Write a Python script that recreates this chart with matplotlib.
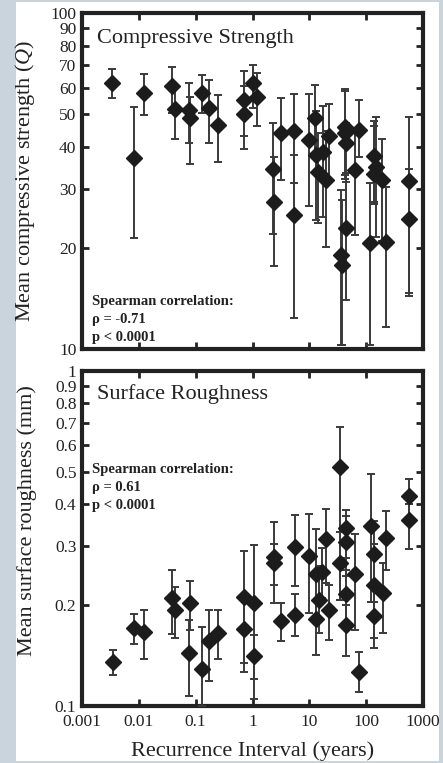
import numpy as np
import matplotlib
matplotlib.use("Agg")
import matplotlib.pyplot as plt
from matplotlib.patches import Rectangle
from matplotlib.ticker import FixedLocator, NullLocator, FixedFormatter

# compressive strength: recurrence interval, mean Q, lower / upper bar ends
cs_x = [0.0034, 0.0083, 0.0125, 0.038, 0.0435, 0.075, 0.080, 0.128, 0.175, 0.245,
        0.72, 0.72, 1.035, 1.19, 2.33, 2.39, 3.13, 5.37, 5.37, 9.7,
        12.7, 13.1, 14.4, 17.1, 19.6, 22.4, 35.4, 36.9, 42.2, 43.0,
        44.0, 43.5, 63.2, 75.4, 119, 136, 148, 140, 191, 221,
        569, 569]
cs_mean = [61.8, 36.9, 57.7, 60.7, 51.7, 51.5, 48.6, 57.7, 52.1, 46.4,
           55.1, 50.1, 61.8, 56.4, 34.3, 27.4, 43.8, 44.5, 25.0, 41.9,
           48.6, 37.8, 33.7, 38.7, 31.8, 43.1, 19.0, 17.8, 45.7, 43.8,
           41.1, 22.9, 34.1, 44.7, 20.7, 37.5, 34.9, 33.2, 31.8, 20.8,
           31.6, 24.3]
cs_lo = [56.0, 21.4, 49.8, 50.5, 42.1, 40.9, 35.5, 50.3, 41.1, 35.9,
         43.1, 39.5, 52.0, 46.1, 22.0, 17.7, 31.8, 31.2, 12.4, 26.6,
         38.0, 24.2, 23.7, 24.7, 20.1, 31.8, 10.3, 10.3, 32.0, 33.0,
         31.5, 14.0, 21.8, 37.4, 10.3, 27.4, 21.5, 27.0, 21.0, 11.6,
         14.7, 14.4]
cs_hi = [68.1, 52.6, 65.9, 69.3, 60.0, 62.1, 56.4, 65.5, 63.0, 57.1,
         67.3, 60.7, 69.8, 66.5, 46.9, 37.4, 55.7, 57.4, 37.8, 57.4,
         60.9, 51.0, 44.0, 52.7, 44.5, 53.5, 29.7, 27.7, 59.3, 58.5,
         47.0, 33.3, 45.5, 55.1, 31.1, 47.8, 49.1, 46.0, 42.1, 30.3,
         48.9, 34.4]

# surface roughness (mm)
sr_x = [0.0035, 0.0083, 0.0125, 0.038, 0.0435, 0.077, 0.080, 0.128, 0.175, 0.25,
        0.72, 0.72, 1.07, 1.07, 2.4, 2.4, 3.2, 5.6, 5.6, 10,
        13, 13, 15, 17, 20, 22.4, 35, 35, 45, 45,
        45, 45, 63, 76, 124, 140, 140, 140, 198, 225,
        569, 569]
sr_mean = [0.135, 0.171, 0.166, 0.210, 0.193, 0.144, 0.203, 0.129, 0.156, 0.165,
           0.212, 0.170, 0.203, 0.141, 0.279, 0.268, 0.179, 0.299, 0.187, 0.281,
           0.248, 0.182, 0.207, 0.252, 0.315, 0.194, 0.516, 0.268, 0.340, 0.308,
           0.216, 0.175, 0.247, 0.126, 0.344, 0.284, 0.230, 0.185, 0.218, 0.318,
           0.423, 0.359]
sr_lo = [0.124, 0.153, 0.138, 0.164, 0.160, 0.107, 0.169, 0.100, 0.119, 0.138,
         0.134, 0.126, 0.105, 0.120, 0.203, 0.230, 0.156, 0.228, 0.162, 0.190,
         0.185, 0.142, 0.165, 0.210, 0.233, 0.157, 0.207, 0.207, 0.277, 0.245,
         0.178, 0.141, 0.169, 0.110, 0.205, 0.204, 0.149, 0.160, 0.165, 0.255,
         0.355, 0.295]
sr_hi = [0.147, 0.188, 0.194, 0.255, 0.226, 0.181, 0.236, 0.172, 0.194, 0.193,
         0.291, 0.210, 0.303, 0.163, 0.355, 0.305, 0.203, 0.371, 0.216, 0.374,
         0.337, 0.207, 0.262, 0.296, 0.386, 0.230, 0.679, 0.330, 0.384, 0.370,
         0.254, 0.200, 0.326, 0.145, 0.493, 0.356, 0.305, 0.224, 0.268, 0.382,
         0.476, 0.400]

cs_ticks = [10, 20, 30, 40, 50, 60, 70, 80, 90, 100]
sr_ticks = [0.1, 0.2, 0.3, 0.4, 0.5, 0.6, 0.7, 0.8, 0.9, 1.0]
sr_tick_labels = ["0.1", "0.2", "0.3", "0.4", "0.5", "0.6", "0.7", "0.8", "0.9", "1"]
x_ticks = [0.001, 0.01, 0.1, 1, 10, 100, 1000]
x_tick_labels = ["0.001", "0.01", "0.1", "1", "10", "100", "1000"]

plt.rcParams['font.family'] = ['Liberation Serif', 'DejaVu Serif']
plt.rcParams['mathtext.fontset'] = 'custom'
plt.rcParams['mathtext.it'] = 'Liberation Serif:italic'
plt.rcParams['mathtext.rm'] = 'Liberation Serif'

W, H = 443, 763
fig = plt.figure(figsize=(W / 100, H / 100), dpi=100, facecolor='#c9d4dc')
fig.patches.append(Rectangle((16 / W, 2 / H), (439 - 16) / W, (761 - 2) / H,
                             transform=fig.transFigure, facecolor='white',
                             edgecolor='none', zorder=-10))

ink = '#222222'


def panel(rect, x, mean, lo, hi, yticks, ylabels, ylim):
    ax = fig.add_axes(rect)
    ax.set_zorder(5)
    mean = np.array(mean)
    yerr = [mean - np.array(lo), np.array(hi) - mean]
    ax.errorbar(x, mean, yerr=yerr, fmt='D', color='#1c1c1c', ms=8.5,
                ecolor='#3a3a3a', elinewidth=1.4, capsize=3, capthick=1.4,
                zorder=3)
    ax.set_xscale('log')
    ax.set_yscale('log')
    ax.set_xlim(0.001, 1000)
    ax.set_ylim(*ylim)
    ax.xaxis.set_major_locator(FixedLocator(x_ticks))
    ax.xaxis.set_minor_locator(NullLocator())
    ax.yaxis.set_major_locator(FixedLocator(yticks))
    ax.yaxis.set_major_formatter(FixedFormatter(ylabels))
    ax.yaxis.set_minor_locator(NullLocator())
    ax.tick_params(which='major', direction='in', top=True, right=True,
                   length=5, width=2, color=ink, labelcolor=ink,
                   labelsize=12.5, pad=4)
    for s in ax.spines.values():
        s.set_linewidth(3)
        s.set_color(ink)
    return ax


ax1 = panel([82 / W, 1 - 349 / H, 341 / W, 336 / H], cs_x, cs_mean, cs_lo, cs_hi,
            cs_ticks, [str(t) for t in cs_ticks], (10, 100))
ax1.tick_params(axis='x', labelbottom=False)
ax1.set_ylabel('Mean compressive strength ($\\mathit{Q}$)', fontsize=16, color=ink)
ax1.yaxis.set_label_coords(-0.132, 0.5)
ax1.text(0.045, 0.925, 'Compressive Strength', transform=ax1.transAxes,
         fontsize=16, color=ink, va='center')
ax1.text(0.03, 0.015, 'Spearman correlation:\n\u03c1 = -0.71\np < 0.0001',
         transform=ax1.transAxes, fontsize=10.5, fontweight='bold', color=ink,
         va='bottom', linespacing=1.5)

ax2 = panel([82 / W, 1 - 706 / H, 341 / W, 335 / H], sr_x, sr_mean, sr_lo, sr_hi,
            sr_ticks, sr_tick_labels, (0.1, 1.0))
ax2.xaxis.set_major_formatter(FixedFormatter(x_tick_labels))
ax2.tick_params(axis='x', pad=6)
ax2.set_ylabel('Mean surface roughness (mm)', fontsize=16, color=ink)
ax2.yaxis.set_label_coords(-0.132, 0.555)
ax2.set_xlabel('Recurrence Interval (years)', fontsize=16, color=ink, labelpad=8)
ax2.text(0.045, 0.93, 'Surface Roughness', transform=ax2.transAxes,
         fontsize=16, color=ink, va='center')
ax2.text(0.03, 0.58, 'Spearman correlation:\n\u03c1 = 0.61\np < 0.0001',
         transform=ax2.transAxes, fontsize=10.5, fontweight='bold', color=ink,
         va='bottom', linespacing=1.5)

fig.savefig('out.png', dpi=100, facecolor=fig.get_facecolor())
